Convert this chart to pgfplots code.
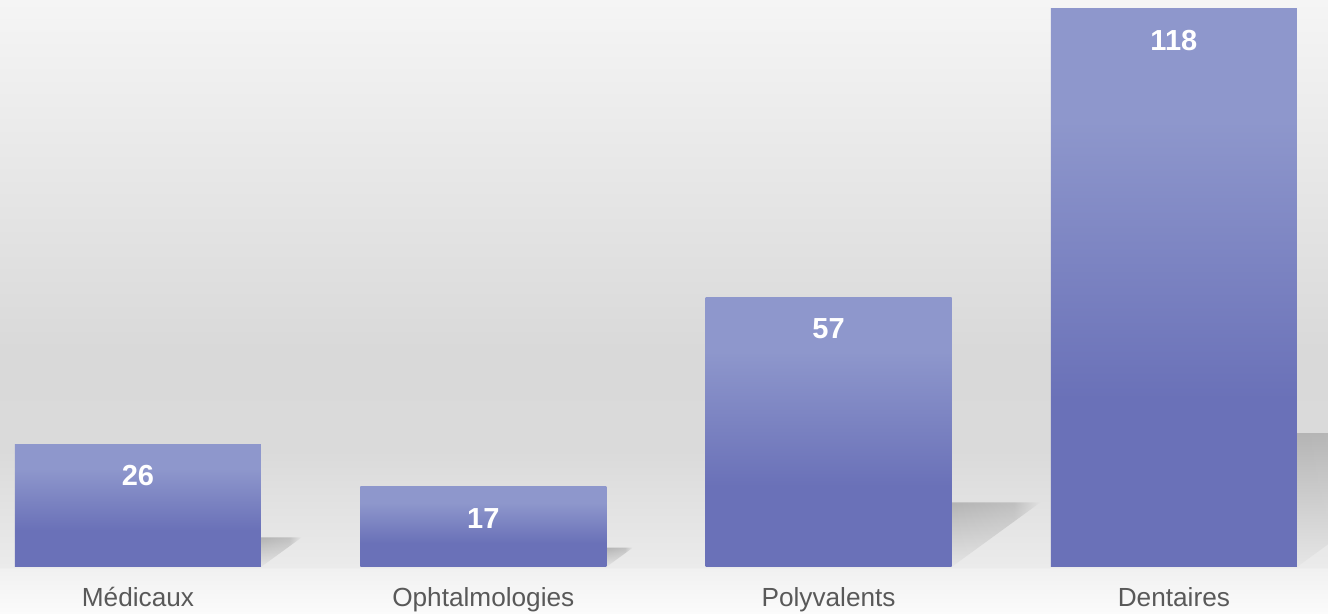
\documentclass[border=0pt]{standalone}
\usepackage{pgfplots}
\pgfplotsset{compat=1.18}
\usetikzlibrary{fadings}
\usepackage{fontspec}
\setmainfont{Liberation Sans}
\definecolor{barlight}{HTML}{8E97CC}
\definecolor{bardark}{HTML}{6A71B8}
\definecolor{labelgray}{HTML}{595959}
\definecolor{bg0}{HTML}{FBFBFB}
\definecolor{bg1}{HTML}{F1F1F1}
\definecolor{bg2}{HTML}{EBEBEB}
\definecolor{bg3}{HTML}{DADADA}
\definecolor{bg4}{HTML}{D9D9D9}
\definecolor{bg5}{HTML}{E5E5E5}
\definecolor{bg6}{HTML}{F5F5F5}
\definecolor{sh0}{HTML}{E6E6E6}
\definecolor{sh1}{HTML}{C4C4C4}
\definecolor{sh2}{HTML}{B4B4B4}
\pgfdeclareverticalshading{bgshade}{100bp}{color(0bp)=(bg0); color(25bp)=(bg0); color(28.66bp)=(bg1); color(28.83bp)=(bg2); color(38.36bp)=(bg3); color(46.5bp)=(bg4); color(58.7bp)=(bg5); color(75bp)=(bg6); color(100bp)=(bg6)}
\pgfdeclareverticalshading{barshade}{100bp}{color(0bp)=(bardark); color(25bp)=(bardark); color(40bp)=(bardark); color(65bp)=(barlight); color(75bp)=(barlight); color(100bp)=(barlight)}
\pgfdeclareverticalshading{shadowshade}{100bp}{color(0bp)=(sh0); color(25bp)=(sh0); color(60bp)=(sh1); color(75bp)=(sh2); color(100bp)=(sh2)}
\pgfdeclarehorizontalshading{shfade}{100bp}{color(0bp)=(pgftransparent!0); color(25bp)=(pgftransparent!0); color(60bp)=(pgftransparent!25); color(75bp)=(pgftransparent!100); color(100bp)=(pgftransparent!100)}
\pgfdeclarefading{shfade}{\pgfuseshading{shfade}}
\begin{document}
\begin{tikzpicture}
\shade[shading=bgshade] (0pt,0pt) rectangle (664pt,307pt);
\begin{axis}[
  at={(0pt,23.5pt)}, anchor=south west,
  scale only axis, width=664pt, height=283.5pt,
  xmin=-0.3996, xmax=3.4464, ymin=0, ymax=119.9,
  axis line style={draw=none}, tick style={draw=none},
  ytick=\empty, xtick={0,1,2,3},
  xticklabels={Médicaux,Ophtalmologies,Polyvalents,Dentaires},
  xticklabel style={font=\fontsize{13.1pt}{15pt}\selectfont, text=labelgray, anchor=base, yshift=-20pt},
  /pgf/number format/assume math mode=true,
  barstyle/.style={ybar, bar width=123pt, bar shift=0pt, draw=none, shading=barshade,
    nodes near coords,
    nodes near coords style={font=\bfseries\fontsize{14.5pt}{16pt}\selectfont, text=white, anchor=base, yshift=-20.75pt}},
  shadowstyle/.style={draw=none, shading=shadowshade, path fading=shfade, forget plot},
]
% soft shadows cast by the bars
\addplot[shadowstyle] coordinates {(0.3562,0) (0.3562,6.24) (0.4737,6.24)} -- cycle;
\addplot[shadowstyle] coordinates {(1.3562,0) (1.3562,4.08) (1.4330,4.08)} -- cycle;
\addplot[shadowstyle] coordinates {(2.3562,0) (2.3562,13.68) (2.6138,13.68)} -- cycle;
\addplot[shadowstyle] coordinates {(3.3562,0) (3.3562,28.32) (3.8895,28.32)} -- cycle;
% bars (one plot per bar so each gets its own gradient)
\addplot[barstyle] coordinates {(0,26)};
\addplot[barstyle] coordinates {(1,17)};
\addplot[barstyle] coordinates {(2,57)};
\addplot[barstyle] coordinates {(3,118)};
\end{axis}
\pgfresetboundingbox
\useasboundingbox (0pt,0pt) rectangle (664pt,307pt);
\end{tikzpicture}
\end{document}
